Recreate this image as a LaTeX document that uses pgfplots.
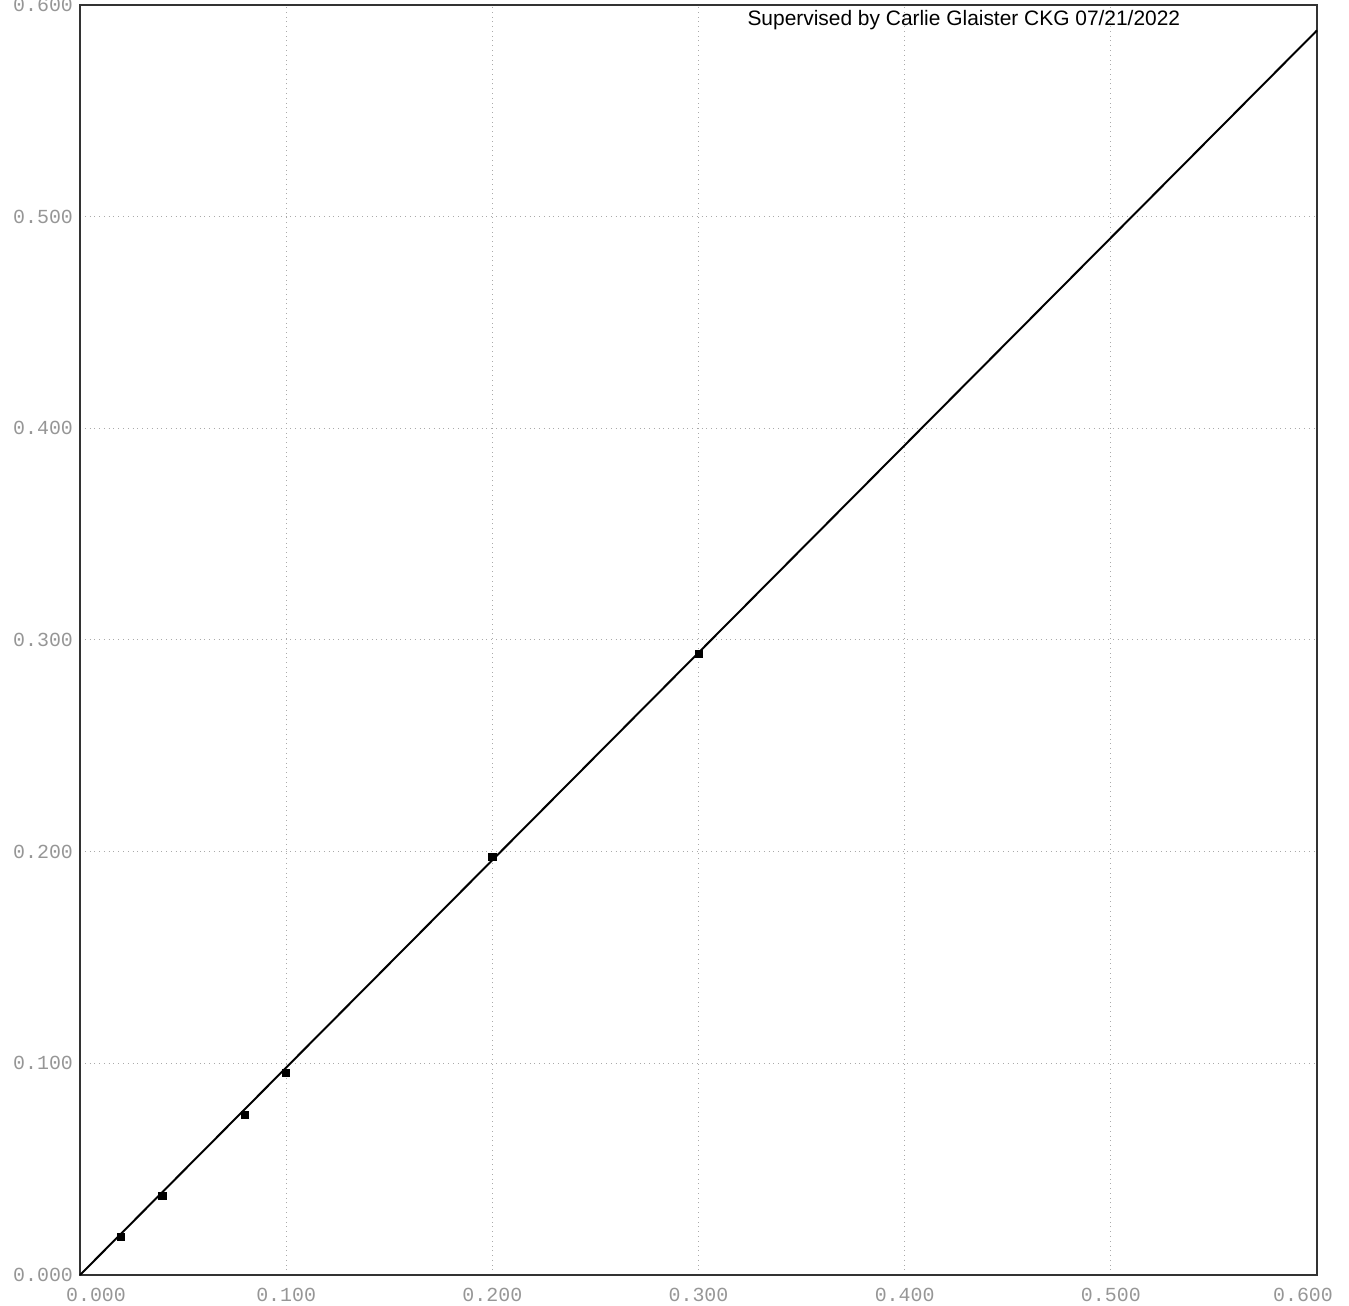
\documentclass[border=0pt]{standalone}
\usepackage{fontspec}
\setmainfont{Liberation Sans}
\newfontfamily\monofont{Liberation Mono}
\usepackage{pgfplots}
\pgfplotsset{compat=1.18}
\usetikzlibrary{calc}
\definecolor{lblgray}{RGB}{150,150,150}
\definecolor{gridgray}{RGB}{170,170,170}
\begin{document}
\begin{tikzpicture}
\begin{axis}[
  scale only axis,
  width=618.5bp, height=635bp,
  xmin=0, xmax=0.6, ymin=0, ymax=0.6,
  xtick={0,0.1,...,0.6}, ytick={0,0.1,...,0.6},
  xticklabels={{\hspace*{16bp}0.000},0.100,0.200,0.300,0.400,0.500,{0.600\hspace*{14bp}}},
  major tick length=0pt,
  grid=major,
  major grid style={gridgray, dotted, line width=0.5pt},
  axis line style={black!80, line width=0.7pt},
  /pgf/number format/assume math mode=true,
  /pgf/number format/fixed,
  /pgf/number format/fixed zerofill,
  /pgf/number format/precision=3,
  tick label style={font=\monofont\fontsize{10}{12}\selectfont, text=lblgray},
  xticklabel style={yshift=-3bp},
  clip=false,
]
\addplot[black, line width=1pt] coordinates {(0,0) (0.6,0.588)};
\addplot[only marks, mark=square*, mark size=1.8bp, black] coordinates {
  (0.02,0.018) (0.04,0.0373) (0.08,0.0757) (0.1,0.0955) (0.2,0.1976) (0.3,0.2936)
};
\node[font=\fontsize{10.5}{12}\selectfont, anchor=center] at (axis cs:0.4287,0.5929) {Supervised by Carlie Glaister CKG 07/21/2022};
\end{axis}
\pgfresetboundingbox
\path[use as bounding box] ($(current axis.south west)+(-40bp,-15.5bp)$) rectangle ($(current axis.north east)+(16bp,2.5bp)$);
\end{tikzpicture}
\end{document}
